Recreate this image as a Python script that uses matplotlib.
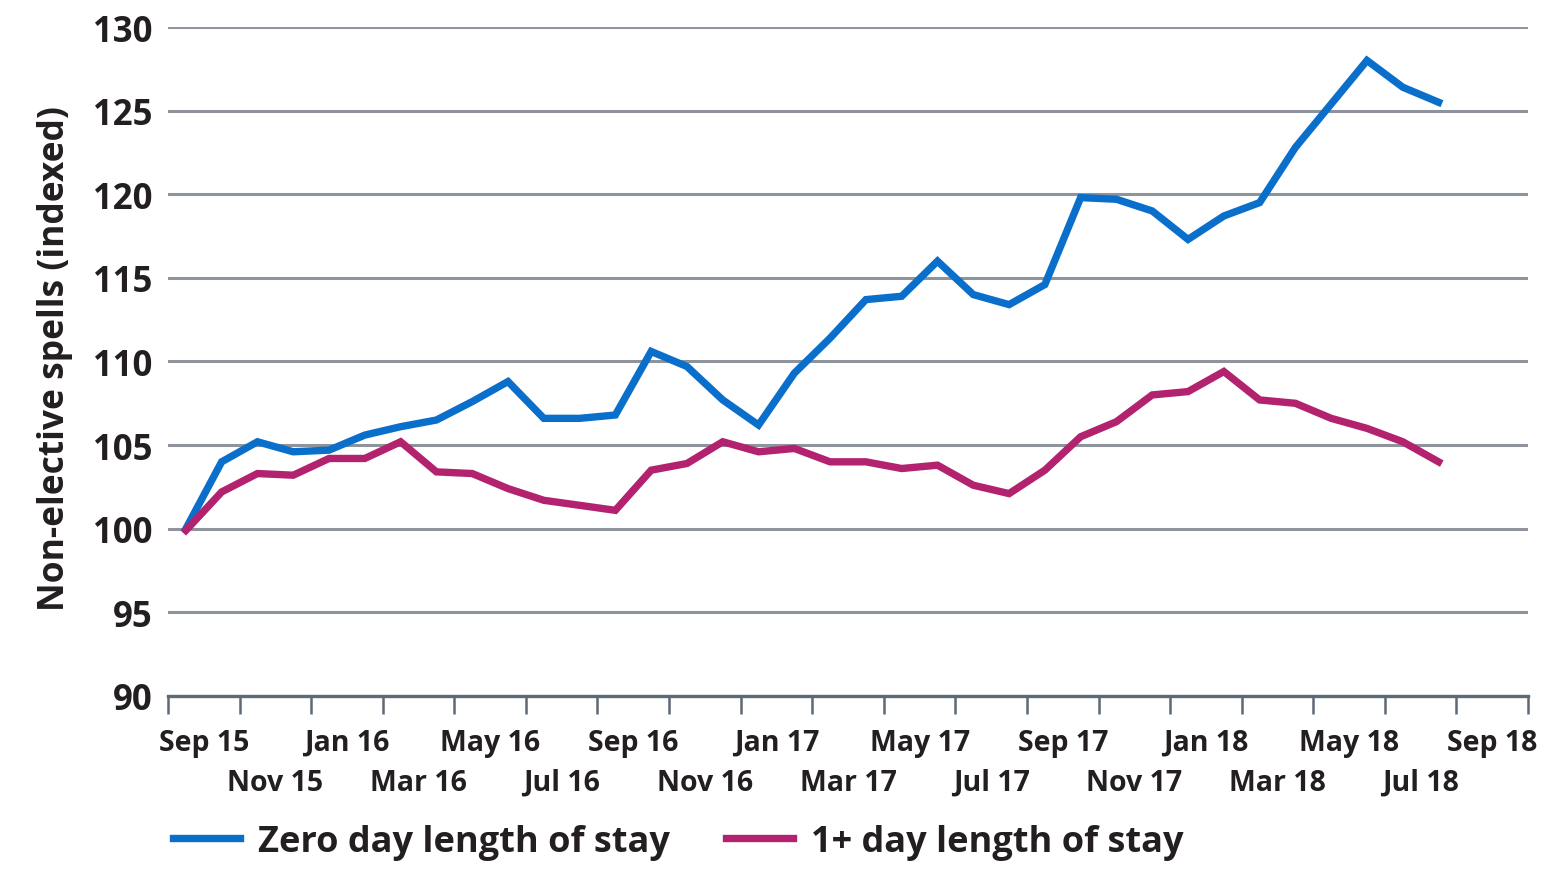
import matplotlib.pyplot as plt
import numpy as np

plt.rcParams['font.family'] = ['Open Sans', 'DejaVu Sans']

# monthly index, Sep 2015 .. Aug 2018
zero_day = [100.0, 104.0, 105.2, 104.6, 104.7, 105.6, 106.1, 106.5, 107.6, 108.8,
            106.6, 106.6, 106.8, 110.6, 109.7, 107.7, 106.2, 109.3, 111.4, 113.7,
            113.9, 116.0, 114.0, 113.4, 114.6, 119.8, 119.7, 119.0, 117.3, 118.7,
            119.5, 122.8, 125.4, 128.0, 126.4, 125.5]
one_plus = [99.9, 102.2, 103.3, 103.2, 104.2, 104.2, 105.2, 103.4, 103.3, 102.4,
            101.7, 101.4, 101.1, 103.5, 103.9, 105.2, 104.6, 104.8, 104.0, 104.0,
            103.6, 103.8, 102.6, 102.1, 103.5, 105.5, 106.4, 108.0, 108.2, 109.4,
            107.7, 107.5, 106.6, 106.0, 105.2, 104.0]
tick_labels = ['Sep 15', 'Nov 15', 'Jan 16', 'Mar 16', 'May 16', 'Jul 16', 'Sep 16',
               'Nov 16', 'Jan 17', 'Mar 17', 'May 17', 'Jul 17', 'Sep 17', 'Nov 17',
               'Jan 18', 'Mar 18', 'May 18', 'Jul 18', 'Sep 18']

blue = '#0a6fcb'
magenta = '#b2226f'
txt = '#231f20'
grid_c = '#8e939c'
axis_c = '#5d6975'

months = np.arange(len(zero_day))

fig = plt.figure(figsize=(15.51, 8.7), dpi=100)
ax = fig.add_axes([0.1083, 0.1989, 0.8769, 0.7689])

ax.plot(months, zero_day, color=blue, lw=5.3, solid_joinstyle='miter', label='Zero day length of stay', zorder=3)
ax.plot(months, one_plus, color=magenta, lw=5.3, solid_joinstyle='miter', label='1+ day length of stay', zorder=3)

ax.set_ylim(90, 130)
ax.set_yticks(range(90, 131, 5))
ax.set_xlim(-0.5, 37.5)
ax.set_xticks(np.arange(-0.5, 38, 2))
ax.set_xticklabels([])

ax.yaxis.grid(True, color=grid_c, lw=2.2)
ax.set_axisbelow(True)
for s in ['left', 'top', 'right']:
    ax.spines[s].set_visible(False)
ax.spines['bottom'].set_color(axis_c)
ax.spines['bottom'].set_linewidth(2.4)
ax.spines['bottom'].set_zorder(4)

ax.tick_params(axis='y', length=0, pad=11, labelsize=25, labelcolor=txt)
ax.tick_params(axis='x', length=13, width=1.8, color=axis_c, direction='out')
for lab in ax.get_yticklabels():
    lab.set_fontweight('bold')

for k, lab in enumerate(tick_labels):
    yy = -0.069 if k % 2 == 0 else -0.129
    ax.text(0.5 + 2 * k, yy, lab, transform=ax.get_xaxis_transform(),
            ha='center', va='center', fontsize=20.5, fontweight='bold', color=txt)

fig.text(0.0355, 0.588, 'Non-elective spells (indexed)', rotation=90,
         ha='center', va='center', fontsize=25.5, fontweight='bold', color=txt)

leg = fig.legend(loc='center left', bbox_to_anchor=(173 / 1551, 1 - 843 / 870),
                 ncol=2, frameon=False, fontsize=26, borderpad=0, borderaxespad=0,
                 handlelength=1.85, handletextpad=0.5, columnspacing=1.55)
for t in leg.get_texts():
    t.set_color(txt)
    t.set_fontweight('bold')
for h in leg.get_lines():
    h.set_linewidth(5.3)

fig.savefig('out.png', dpi=100)
